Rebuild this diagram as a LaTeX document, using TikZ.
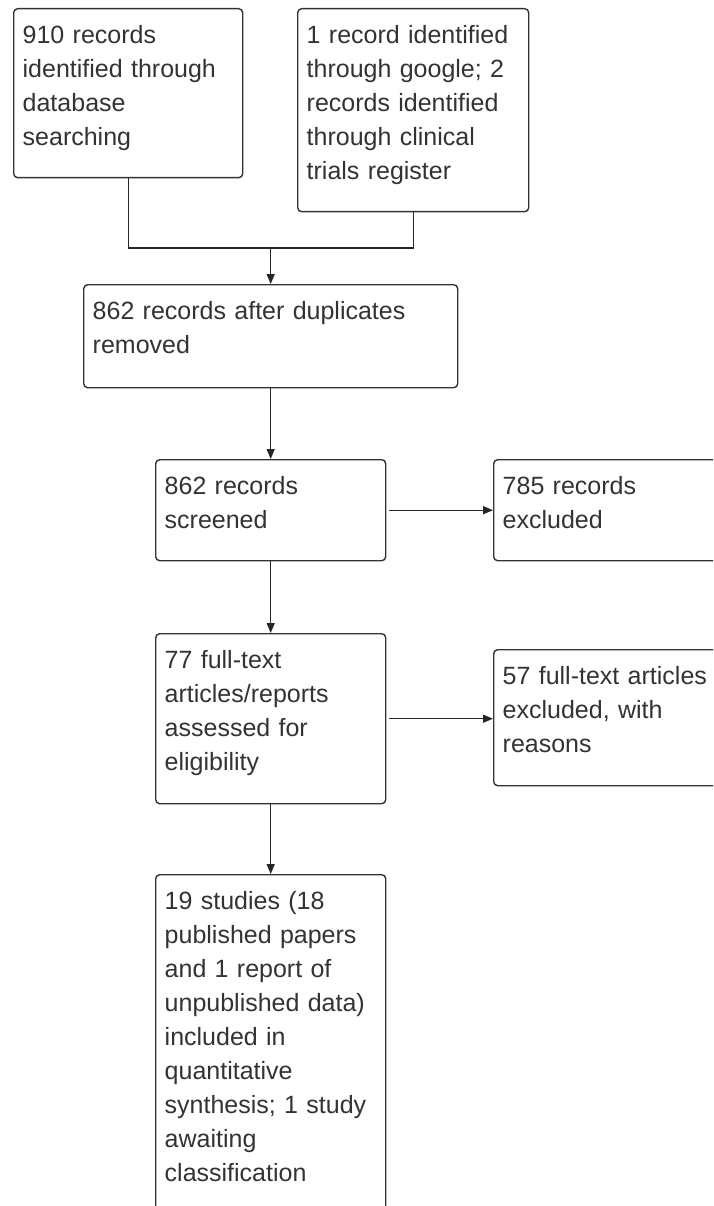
\documentclass[tikz,border=0pt]{standalone}
\usepackage{fontspec}
\setmainfont{Liberation Sans}
\usepackage{tikz}
\usetikzlibrary{positioning}
\usetikzlibrary{arrows.meta}

\begin{document}
\begin{tikzpicture}[x=1pt, y=-1pt,
    flowbox/.style={draw=black!80, line width=1.4pt, rounded corners=4pt,
        anchor=north west, inner xsep=9pt, inner ysep=0pt, align=left,
        text height=35pt, text=black!80,
        font=\fontsize{25}{34}\selectfont},
    link/.style={draw=black!85, line width=1.4pt},
    arrow/.style={link, -{Triangle[length=10pt, width=8pt]}}]
    \useasboundingbox (0,0) rectangle (713,1206);
    \clip (0,0) rectangle (713,1206);
    \fill[white] (0,0) rectangle (713,1206);

    \node[flowbox, text width=211pt, text depth=134pt] (ident) at (13,8)
        {910 records\\identified through\\database\\searching};
    \node[flowbox, text width=213pt, text depth=168pt] (other) at (297,8)
        {1 record identified\\through google; 2\\records identified\\through clinical\\trials register};
    \node[flowbox, text width=356pt, text depth=68pt] (dedup) at (83,284)
        {862 records after duplicates\\removed};
    \node[flowbox, text width=212pt, text depth=66pt] (screen) at (155,459)
        {862 records\\screened};
    \node[flowbox, text width=222pt, text depth=66pt] (excl) at (493,459)
        {785 records\\excluded};
    \node[flowbox, text width=212pt, text depth=135pt] (full) at (155,633)
        {77 full-text\\articles/reports\\assessed for\\eligibility};
    \node[flowbox, text width=222pt, text depth=101pt] (fullexcl) at (493,649)
        {57 full-text articles\\excluded, with\\reasons};
    \node[flowbox, text width=212pt, text depth=325pt] (incl) at (155,874)
        {19 studies (18\\published papers\\and 1 report of\\unpublished data)\\included in\\quantitative\\synthesis; 1 study\\awaiting\\classification};

    \coordinate (merge) at (dedup.north |- 0,248);
    \draw[link] (ident.south) |- (merge);
    \draw[link] (other.south) |- (merge);
    \draw[arrow] (merge) -- (dedup.north);
    \draw[arrow] (dedup.south) -- (screen.north);
    \draw[arrow, shorten <=3pt] (screen.east) -- (excl.west);
    \draw[arrow] (screen.south) -- (full.north);
    \draw[arrow, shorten <=3pt] (full.east) -- (full.east -| fullexcl.west);
    \draw[arrow] (full.south) -- (incl.north);
\end{tikzpicture}
\end{document}
